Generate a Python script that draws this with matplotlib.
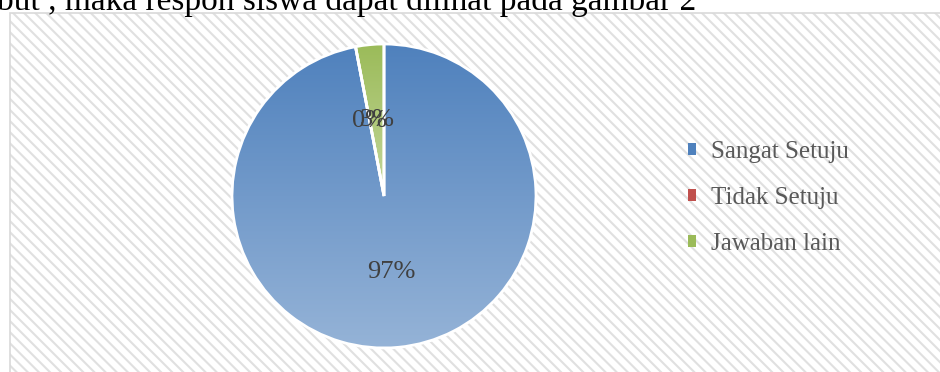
import numpy as np
import matplotlib
matplotlib.use('Agg')
import matplotlib.pyplot as plt
from matplotlib.colors import LinearSegmentedColormap
from matplotlib.patches import Rectangle

# data
labels = ['Sangat Setuju', 'Tidak Setuju', 'Jawaban lain']
values = [97, 0, 3]
warna_atas = ['#4F81BD', '#C0504D', '#9BBB59']
warna_bawah = ['#95B3D7', '#DA9694', '#C4D79B']
teks_atas = 'but , maka respon siswa dapat dilihat pada gambar 2'

plt.rcParams['font.family'] = ['Liberation Serif', 'DejaVu Serif']
plt.rcParams['hatch.linewidth'] = 1.5

W, H = 940, 372
fig = plt.figure(figsize=(W / 100, H / 100), dpi=100)

# area grafik dengan latar bergaris
bg = Rectangle((10 / W, -0.05), 1.1, (H - 13) / H + 0.05, transform=fig.transFigure,
               facecolor='white', edgecolor='#e0e0e0', hatch='\\\\\\', linewidth=0, zorder=-3)
fig.patches.append(bg)
tepi = Rectangle((10 / W, -0.05), 1.1, (H - 13) / H + 0.05, transform=fig.transFigure,
                 facecolor='none', edgecolor='#d9d9d9', linewidth=1.2, zorder=-2)
fig.patches.append(tepi)

fig.text(-3 / W, (H - 10) / H, teks_atas, fontsize=24, va='baseline', ha='left', color='black')

# pie
cx, cy, r = 384, 196, 152
L = 1.05
sz = 2 * L * r
ax = fig.add_axes([(cx - sz / 2) / W, (H - cy - sz / 2) / H, sz / W, sz / H])
wedges, texts, autotexts = ax.pie(values, startangle=90, counterclock=False,
                                  autopct='%1.0f%%', pctdistance=0.5,
                                  wedgeprops=dict(facecolor='none', edgecolor='white', linewidth=2),
                                  textprops=dict(fontsize=19, color='#404040'))

for w, c1, c2 in zip(wedges, warna_atas, warna_bawah):
    ext = w.get_path().get_extents()
    if ext.width < 1e-6 or ext.height < 1e-6:
        continue
    cmap = LinearSegmentedColormap.from_list('g', [c1, c2])
    grad = np.linspace(0, 1, 256).reshape(-1, 1)
    im = ax.imshow(grad, cmap=cmap, aspect='auto', origin='upper',
                   extent=(ext.x0, ext.x1, ext.y0, ext.y1), zorder=1)
    im.set_clip_path(w)
    w.set_zorder(2)
for t in autotexts:
    t.set_zorder(3)

ax.set_xlim(-L, L)
ax.set_ylim(-L, L)
ax.set_aspect('equal')
ax.axis('off')

# legenda
handles = [Rectangle((0, 0), 1, 1, facecolor=c, edgecolor='none') for c in warna_atas]
fig.legend(handles, labels, loc='center left', bbox_to_anchor=(665 / W, (H - 198) / H),
           frameon=False, fontsize=18, labelcolor='#595959',
           handlelength=0.35, handleheight=0.35, handletextpad=0.6, labelspacing=0.95)

plt.savefig('out.png', dpi=100)
